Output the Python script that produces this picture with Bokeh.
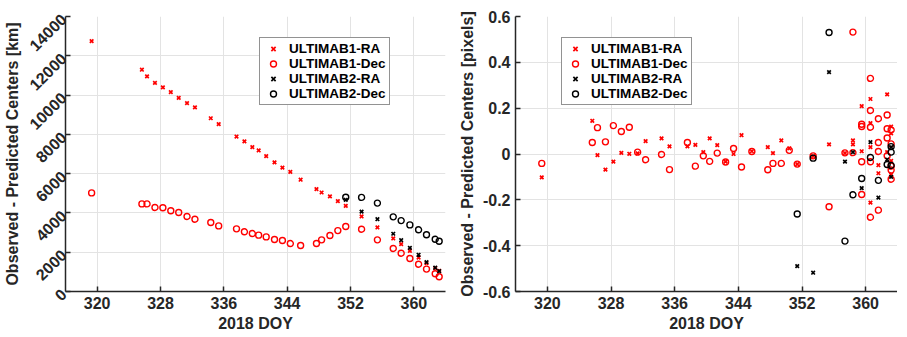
import math
from bokeh.plotting import figure
from bokeh.layouts import row
from bokeh.models import FixedTicker, Range1d
from bokeh.embed import file_html
from bokeh.resources import INLINE

# ---------------- data (left panel, km) ----------------
days1 = [319.3, 325.65, 326.3, 327.3, 328.3, 329.3, 330.3, 331.35, 332.35, 334.35, 335.35,
         337.6, 338.6, 339.6, 340.4, 341.35, 342.4, 343.4, 344.4, 345.7, 347.7, 348.35,
         349.4, 350.4, 351.4, 353.4, 355.4, 357.4, 358.4, 359.5, 360.6, 361.6, 362.7, 363.2]
ra1_km = [12750, 11290, 10950, 10620, 10390, 10150, 9860, 9590, 9370, 8820, 8520,
          7890, 7640, 7350, 7180, 6890, 6570, 6310, 6090, 5690, 5210, 5040,
          4840, 4600, 4360, 3820, 3260, 2700, 2410, 2070, 1730, 1440, 1190, 1050]
dec1_km = [5020, 4460, 4460, 4280, 4260, 4110, 4020, 3820, 3680, 3510, 3340,
           3190, 3040, 2950, 2870, 2780, 2650, 2600, 2440, 2340, 2440, 2630,
           2850, 3100, 3310, 3170, 2630, 2190, 1950, 1680, 1390, 1140, 900, 750]
days2 = [351.4, 353.4, 355.4, 357.4, 358.4, 359.5, 360.6, 361.6, 362.7, 363.2]
ra2_km = [4670, 4070, 3680, 2940, 2610, 2220, 1870, 1490, 1210, 1040]
dec2_km = [4800, 4790, 4500, 3800, 3610, 3390, 3140, 2890, 2660, 2560]

# ---------------- data (right panel, pixels) ----------------
ra1_px_days = [319.3, 325.65, 326.3, 327.3, 328.3, 329.3, 330.3, 331.35, 332.35, 334.35, 335.35,
               337.6, 338.6, 339.6, 340.4, 341.35, 342.4, 343.4, 344.4, 345.7, 347.7, 348.35,
               349.4, 350.4, 351.4, 353.4, 355.4, 357.4, 358.4, 358.4, 359.5, 359.5,
               360.6, 360.6, 360.6, 360.6, 361.6, 361.6, 362.7, 362.7, 363.2, 363.2, 363.2, 363.2]
ra1_px = [-0.102, 0.145, -0.005, -0.068, -0.033, 0.005, 0.001, 0.003, 0.056, 0.068, 0.033,
          0.033, 0.040, 0.008, 0.068, 0.039, -0.033, 0.0, 0.082, 0.012, 0.030, 0.004,
          0.059, 0.025, -0.044, -0.009, 0.042, 0.004, 0.059, 0.042, 0.209, 0.012,
          0.24, 0.135, 0.030, -0.212, -0.049, -0.084, 0.26, 0.008, 0.12, 0.09, -0.03, -0.09]
dec1_px_days = [319.3, 325.65, 326.3, 327.3, 328.3, 329.3, 330.3, 331.35, 332.35, 334.35, 335.35,
                337.6, 338.6, 339.6, 340.4, 341.35, 342.4, 343.4, 344.4, 345.7, 347.7, 348.35,
                349.4, 350.4, 351.4, 353.4, 355.4, 357.4, 358.4, 358.4,
                359.5, 359.5, 359.5, 359.5, 360.6, 360.6, 360.6, 360.6, 360.6,
                361.6, 361.6, 361.6, 361.6, 362.7, 362.7, 362.7, 362.7,
                363.2, 363.2, 363.2, 363.2, 363.2]
dec1_px = [-0.041, 0.050, 0.115, 0.053, 0.124, 0.098, 0.117, 0.008, -0.025, -0.002, -0.068,
           0.05, -0.053, -0.008, -0.032, 0.004, -0.035, 0.024, -0.057, 0.011, -0.069, -0.041,
           -0.041, 0.016, -0.044, -0.008, -0.23, 0.005, 0.532, 0.006,
           0.13, 0.12, -0.034, -0.177, 0.33, 0.19, 0.117, -0.034, -0.276,
           0.154, 0.05, 0.011, -0.245, 0.17, 0.11, 0.07, -0.008,
           0.105, 0.044, -0.053, -0.07, -0.11]
ra2_px_days = [351.4, 353.4, 355.4, 357.4, 358.4, 359.5, 360.6, 361.6, 362.7, 363.2, 363.2]
ra2_px = [-0.489, -0.518, 0.357, -0.033, 0.008, -0.149, 0.052, -0.19, -0.024, -0.10, 0.03]
dec2_px_days = [351.4, 353.4, 355.4, 357.4, 358.4, 359.5, 360.6, 361.6, 362.7, 363.2, 363.2, 363.2]
dec2_px = [-0.262, -0.018, 0.53, -0.38, -0.178, -0.107, -0.015, -0.115, -0.046, 0.032, 0.008, -0.05]

x_ticks = [320, 328, 336, 344, 352, 360]
y_ticks_km = [0, 2000, 4000, 6000, 8000, 10000, 12000, 14000]
y_ticks_px = [-0.6, -0.4, -0.2, 0, 0.2, 0.4, 0.6]

FONT = "Liberation Sans"
TXT = "#262626"


def style(p, yticks):
    p.outline_line_color = None
    p.background_fill_color = "white"
    p.border_fill_color = "white"
    p.xaxis.ticker = FixedTicker(ticks=x_ticks)
    p.yaxis.ticker = FixedTicker(ticks=yticks)
    for ax in (p.xaxis[0], p.yaxis[0]):
        ax.axis_line_color = TXT
        ax.axis_line_width = 1.5
        ax.major_tick_in = 5
        ax.major_tick_out = 0
        ax.major_tick_line_color = TXT
        ax.major_tick_line_width = 1.5
        ax.minor_tick_line_color = None
        ax.major_label_text_font = FONT
        ax.major_label_text_font_style = "bold"
        ax.major_label_text_font_size = "16px"
        ax.major_label_text_color = TXT
        ax.axis_label_text_font = FONT
        ax.axis_label_text_font_style = "bold"
        ax.axis_label_text_font_size = "16px"
        ax.axis_label_text_color = TXT
    p.xaxis.major_label_standoff = 5
    p.xaxis.axis_label_standoff = 3
    p.grid.grid_line_color = "#e3e3e3"
    p.grid.grid_line_width = 1
    p.xaxis.axis_label = "2018 DOY"


def add_series(p, d1r, v1r, d1d, v1d, d2r, v2r, d2d, v2d):
    p.scatter(d1r, v1r, marker="x", size=5, line_width=1.7, color="red", legend_label="ULTIMAB1-RA")
    p.scatter(d1d, v1d, marker="circle", size=6, line_width=1.4, line_color="red",
              fill_color=None, legend_label="ULTIMAB1-Dec")
    p.scatter(d2r, v2r, marker="x", size=5, line_width=1.7, color="black", legend_label="ULTIMAB2-RA")
    p.scatter(d2d, v2d, marker="circle", size=6, line_width=1.4, line_color="black",
              fill_color=None, legend_label="ULTIMAB2-Dec")


def style_legend(p, loc):
    lg = p.legend[0]
    lg.location = loc
    lg.border_line_color = TXT
    lg.border_line_width = 1
    lg.background_fill_alpha = 1
    lg.padding = 3
    lg.spacing = 0
    lg.margin = 0
    lg.glyph_width = 20
    lg.glyph_height = 15
    lg.label_height = 15
    lg.label_standoff = 6
    lg.label_text_font = FONT
    lg.label_text_font_style = "bold"
    lg.label_text_font_size = "13.5px"
    lg.label_text_color = "black"


# ---------------- left ----------------
p1 = figure(frame_width=380, frame_height=275, output_backend="svg", toolbar_location=None,
            x_range=Range1d(316, 364), y_range=Range1d(0, 14000),
            min_border_left=59, min_border_right=5, min_border_top=16, min_border_bottom=0)
add_series(p1, days1, ra1_km, days1, dec1_km, days2, ra2_km, days2, dec2_km)
style(p1, y_ticks_km)
p1.yaxis.axis_label = "Observed - Predicted Centers [km]"
p1.yaxis.major_label_orientation = math.pi / 4
p1.yaxis.major_label_standoff = 2
p1.yaxis.axis_label_standoff = 0
style_legend(p1, (194, 186))

# ---------------- right ----------------
p2 = figure(frame_width=382, frame_height=275, output_backend="svg", toolbar_location=None,
            x_range=Range1d(316, 364), y_range=Range1d(-0.6, 0.6),
            min_border_left=65, min_border_right=0, min_border_top=16, min_border_bottom=0)
add_series(p2, ra1_px_days, ra1_px, dec1_px_days, dec1_px, ra2_px_days, ra2_px, dec2_px_days, dec2_px)
style(p2, y_ticks_px)
p2.yaxis.axis_label = "Observed - Predicted Centers [pixels]"
p2.yaxis.major_label_overrides = {0: "0", -0.6: "-0.6", -0.4: "-0.4", -0.2: "-0.2",
                                  0.2: "0.2", 0.4: "0.4", 0.6: "0.6"}
p2.yaxis.major_label_standoff = 5
p2.yaxis.axis_label_standoff = 4
style_legend(p2, (46, 186))

layout = row(p1, p2, spacing=0)
open("out.html", "w").write(file_html(layout, INLINE))
